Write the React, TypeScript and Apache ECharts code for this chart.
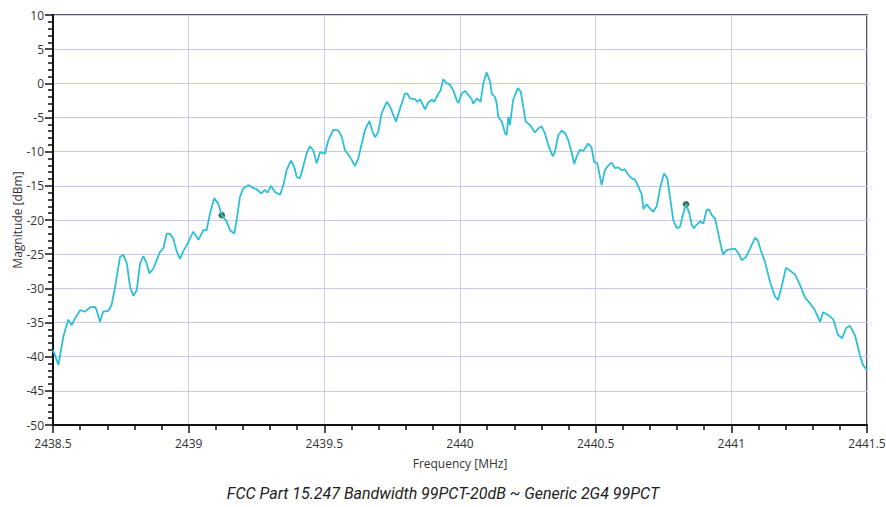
import React, { useEffect, useRef } from "react";
import * as echarts from "echarts";

const freqMHz = [
  2438.5, 2438.509, 2438.52, 2438.538, 2438.556, 2438.569, 2438.581, 2438.6, 2438.618, 2438.636,
  2438.655, 2438.661, 2438.673, 2438.685, 2438.704, 2438.716, 2438.729, 2438.747, 2438.759, 2438.772,
  2438.784, 2438.796, 2438.809, 2438.821, 2438.833, 2438.845, 2438.855, 2438.87, 2438.882, 2438.894,
  2438.907, 2438.919, 2438.931, 2438.943, 2438.956, 2438.968, 2438.98, 2438.994, 2439.017, 2439.036,
  2439.054, 2439.066, 2439.079, 2439.094, 2439.109, 2439.122, 2439.14, 2439.152, 2439.168, 2439.177,
  2439.189, 2439.201, 2439.22, 2439.238, 2439.251, 2439.267, 2439.281, 2439.291, 2439.303, 2439.318,
  2439.337, 2439.349, 2439.361, 2439.377, 2439.389, 2439.398, 2439.41, 2439.422, 2439.435, 2439.447,
  2439.459, 2439.472, 2439.484, 2439.502, 2439.515, 2439.533, 2439.551, 2439.564, 2439.576, 2439.588,
  2439.601, 2439.613, 2439.625, 2439.638, 2439.65, 2439.666, 2439.678, 2439.687, 2439.699, 2439.711,
  2439.73, 2439.742, 2439.754, 2439.764, 2439.779, 2439.797, 2439.806, 2439.816, 2439.834, 2439.843,
  2439.853, 2439.871, 2439.883, 2439.896, 2439.905, 2439.92, 2439.929, 2439.938, 2439.951, 2439.963,
  2439.975, 2439.988, 2439.994, 2440.006, 2440.018, 2440.031, 2440.043, 2440.049, 2440.062, 2440.076,
  2440.086, 2440.098, 2440.111, 2440.117, 2440.129, 2440.135, 2440.141, 2440.154, 2440.166, 2440.172,
  2440.178, 2440.184, 2440.196, 2440.213, 2440.224, 2440.233, 2440.242, 2440.258, 2440.276, 2440.289,
  2440.301, 2440.313, 2440.325, 2440.342, 2440.35, 2440.362, 2440.375, 2440.387, 2440.399, 2440.412,
  2440.421, 2440.43, 2440.442, 2440.454, 2440.473, 2440.485, 2440.494, 2440.506, 2440.522, 2440.534,
  2440.547, 2440.559, 2440.571, 2440.583, 2440.596, 2440.608, 2440.62, 2440.633, 2440.645, 2440.657,
  2440.67, 2440.676, 2440.688, 2440.7, 2440.712, 2440.725, 2440.737, 2440.752, 2440.764, 2440.774,
  2440.786, 2440.799, 2440.811, 2440.823, 2440.833, 2440.845, 2440.854, 2440.862, 2440.872, 2440.885,
  2440.897, 2440.909, 2440.919, 2440.928, 2440.94, 2440.952, 2440.965, 2440.97, 2440.983, 2440.995,
  2441.014, 2441.028, 2441.039, 2441.054, 2441.069, 2441.087, 2441.098, 2441.109, 2441.124, 2441.143,
  2441.161, 2441.172, 2441.187, 2441.201, 2441.216, 2441.235, 2441.253, 2441.272, 2441.29, 2441.308,
  2441.327, 2441.338, 2441.356, 2441.375, 2441.393, 2441.408, 2441.423, 2441.437, 2441.456, 2441.474,
  2441.485, 2441.5,
];

const magnitudeDbm = [
  -39.0, -40.0, -41.2, -37.1, -34.6, -35.4, -34.4, -33.2, -33.4, -32.8,
  -32.7, -33.2, -34.9, -33.4, -33.3, -32.4, -29.8, -25.4, -25.1, -26.3,
  -29.8, -31.1, -30.2, -26.3, -25.3, -26.3, -27.8, -27.1, -25.9, -24.7,
  -24.1, -22.0, -22.0, -22.7, -24.6, -25.7, -24.6, -23.6, -21.7, -22.9,
  -21.5, -21.5, -19.0, -16.8, -17.6, -19.3, -20.2, -21.5, -22.0, -20.0,
  -16.6, -15.4, -14.9, -15.3, -15.5, -16.1, -15.6, -16.0, -15.0, -15.9,
  -16.3, -14.9, -12.7, -11.3, -12.2, -13.7, -13.9, -12.2, -10.2, -9.2,
  -9.8, -11.7, -10.1, -10.3, -8.3, -6.8, -6.9, -7.8, -9.8, -10.4,
  -11.2, -12.1, -11.0, -8.8, -6.8, -5.5, -7.1, -7.9, -7.1, -4.4,
  -2.7, -3.4, -4.6, -5.6, -3.7, -1.5, -1.5, -2.2, -2.3, -2.7,
  -2.3, -3.8, -2.8, -2.4, -2.7, -1.5, -1.0, 0.6, 0.0, -0.2,
  -1.0, -2.5, -2.9, -1.5, -1.1, -1.7, -2.3, -3.0, -2.2, -2.7,
  0.0, 1.6, 0.2, -1.5, -2.0, -2.9, -4.9, -5.6, -7.3, -7.6,
  -4.9, -6.1, -2.4, -0.7, -1.2, -3.4, -5.6, -6.1, -7.2, -6.6,
  -6.3, -7.3, -9.0, -10.7, -10.0, -7.6, -6.9, -7.3, -8.3, -10.2,
  -11.8, -10.7, -9.7, -9.9, -8.8, -9.4, -11.5, -11.7, -14.9, -12.7,
  -12.0, -11.6, -12.4, -12.3, -12.7, -12.6, -13.4, -13.9, -14.1, -15.1,
  -16.3, -18.4, -17.7, -18.3, -18.8, -18.0, -15.4, -13.2, -13.9, -16.6,
  -20.0, -21.2, -21.0, -19.0, -17.7, -19.0, -20.7, -21.2, -20.7, -20.2,
  -20.5, -18.5, -18.5, -19.3, -19.8, -22.0, -24.4, -25.0, -24.4, -24.3,
  -24.2, -25.0, -25.9, -25.4, -24.2, -22.6, -23.0, -24.5, -26.1, -29.1,
  -31.2, -31.7, -29.5, -27.0, -27.4, -28.0, -29.5, -31.4, -32.2, -33.2,
  -34.9, -33.5, -33.9, -34.5, -36.8, -37.3, -35.8, -35.5, -36.9, -39.8,
  -41.2, -42.0,
];

const markerFreq = [2439.122, 2440.833];
const markerDbm = [-19.3, -17.7];

const titleText = "FCC Part 15.247 Bandwidth 99PCT-20dB ~ Generic 2G4 99PCT";
const xAxisName = "Frequency [MHz]";
const yAxisName = "Magnitude [dBm]";

export default function App() {
  const ref = useRef<HTMLDivElement>(null);
  useEffect(() => {
    if (!ref.current) return;
    const chart = echarts.init(ref.current, undefined, { renderer: "svg" });
    const font = "'Open Sans', 'Noto Sans', sans-serif";
    chart.setOption({
      animation: false,
      title: {
        text: titleText,
        left: "center",
        bottom: 1,
        textStyle: {
          fontFamily: "Roboto, sans-serif",
          fontStyle: "italic",
          fontWeight: "normal",
          fontSize: 16,
          color: "#222",
        },
      },
      grid: {
        left: 53,
        right: 19,
        top: 15,
        bottom: 82,
        outerBoundsMode: "none",
        containLabel: false,
        show: true,
        borderColor: "#222",
        borderWidth: 1.5,
        backgroundColor: "transparent",
      },
      xAxis: {
        type: "value",
        min: 2438.5,
        max: 2441.5,
        interval: 0.5,
        name: xAxisName,
        nameLocation: "middle",
        nameGap: 32,
        nameMoveOverlap: false,
        nameTextStyle: { fontFamily: font, fontSize: 12, color: "#333" },
        axisLine: { show: true, onZero: false, lineStyle: { color: "#111", width: 2 } },
        axisTick: { show: true, length: 8, lineStyle: { color: "#111", width: 1.5 } },
        minorTick: { show: true, splitNumber: 5, length: 5, lineStyle: { color: "#111", width: 1.5 } },
        axisLabel: {
          fontFamily: font,
          fontSize: 12,
          color: "#333",
          margin: 12,
          formatter: (v: number) => String(Math.round(v * 10) / 10),
        },
        splitLine: { show: true, lineStyle: { color: "#c8c8f0", width: 1 } },
      },
      yAxis: {
        type: "value",
        min: -50,
        max: 10,
        interval: 5,
        name: yAxisName,
        nameLocation: "middle",
        nameGap: 30,
        nameMoveOverlap: false,
        nameTextStyle: { fontFamily: font, fontSize: 12, color: "#333" },
        axisLine: { show: true, onZero: false, lineStyle: { color: "#111", width: 2 } },
        axisTick: { show: true, length: 8, lineStyle: { color: "#111", width: 1.5 } },
        minorTick: { show: true, splitNumber: 5, length: 5, lineStyle: { color: "#111", width: 1.5 } },
        axisLabel: {
          fontFamily: font,
          fontSize: 12,
          color: "#333",
          margin: 9,
          formatter: (v: number) => String(v),
        },
        splitLine: { show: true, lineStyle: { color: "#c8c8f0", width: 1 } },
      },
      series: [
        {
          type: "line",
          data: freqMHz.map((f, i) => [f, magnitudeDbm[i]]),
          showSymbol: false,
          symbol: "none",
          lineStyle: { color: "#2ebfd6", width: 1.8 },
          silent: true,
        },
        {
          type: "scatter",
          data: markerFreq.map((f, i) => [f, markerDbm[i]]),
          symbol: "circle",
          symbolSize: 6,
          itemStyle: { color: "#17501c", borderColor: "#0c3510", borderWidth: 0.5 },
          silent: true,
        },
      ],
    });
    return () => chart.dispose();
  }, []);
  return <div ref={ref} style={{ width: 886, height: 507, position: "absolute", left: 0, top: 0 }} />;
}
